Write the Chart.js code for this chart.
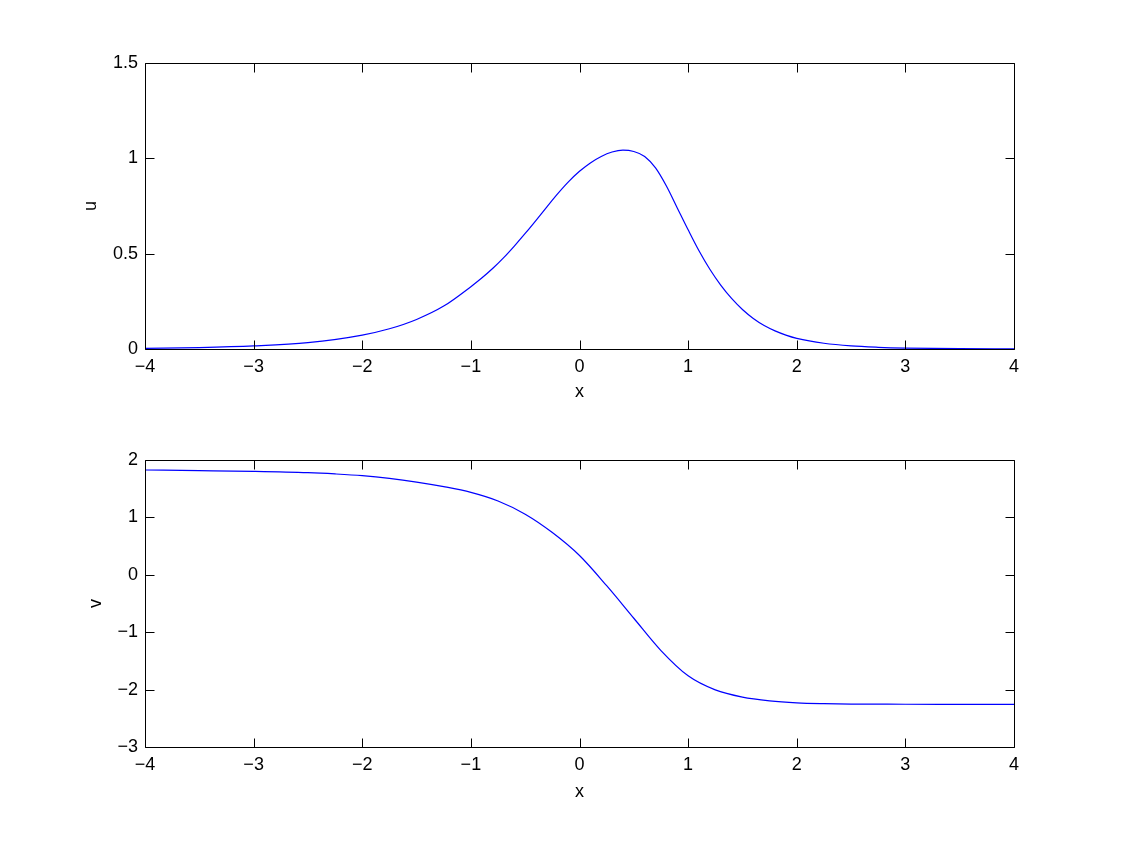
<!DOCTYPE html>
<html>
<head>
<meta charset="utf-8">
<script src="https://cdn.jsdelivr.net/npm/chart.js@4/dist/chart.umd.min.js"></script>
<style>
  html, body { margin: 0; padding: 0; background: #ffffff; }
  #wrap { position: relative; width: 1121px; height: 842px; background: #fff; }
  .box { position: absolute; left: 0; width: 1121px; height: 421px; }
</style>
</head>
<body>
<div id="wrap">
  <div class="box" style="top:0"><canvas id="c1"></canvas></div>
  <div class="box" style="top:421px"><canvas id="c2"></canvas></div>
</div>
<script>
// ---- data ----
const xU = [-4, -3.5, -3, -2.5, -2, -1.75, -1.5, -1.25, -1, -0.9, -0.8, -0.7, -0.6, -0.5, -0.4, -0.3, -0.2, -0.1, 0, 0.1, 0.2, 0.3, 0.4, 0.5, 0.6, 0.7, 0.8, 0.9, 1.0, 1.1, 1.2, 1.3, 1.4, 1.5, 1.6, 1.7, 1.8, 1.9, 2.0, 2.25, 2.5, 2.75, 3, 3.5, 4];
const uVals = [0.0035, 0.0075, 0.016, 0.033, 0.073, 0.106, 0.155, 0.225, 0.327, 0.372, 0.422, 0.478, 0.54, 0.606, 0.675, 0.746, 0.815, 0.878, 0.932, 0.976, 1.01, 1.033, 1.043, 1.036, 1.01, 0.95, 0.855, 0.74, 0.625, 0.515, 0.418, 0.335, 0.265, 0.207, 0.16, 0.123, 0.095, 0.073, 0.056, 0.03, 0.016, 0.009, 0.005, 0.0015, 0.0005];

const xV = [-4, -3.5, -3, -2.5, -2.25, -2, -1.75, -1.5, -1.25, -1, -0.75, -0.5, -0.25, 0, 0.25, 0.5, 0.75, 1.0, 1.25, 1.5, 1.75, 2, 2.25, 2.5, 3, 3.5, 4];
const vVals = [1.826, 1.815, 1.802, 1.779, 1.757, 1.727, 1.68, 1.616, 1.536, 1.436, 1.286, 1.056, 0.736, 0.336, -0.19, -0.757, -1.32, -1.76, -2.005, -2.13, -2.195, -2.23, -2.245, -2.252, -2.255, -2.256, -2.256];

const xTicks = [-4, -3, -2, -1, 0, 1, 2, 3, 4];
const uTicks = [0, 0.5, 1, 1.5];
const vTicks = [-3, -2, -1, 0, 1, 2];

const FONT = { family: "'Liberation Sans', Arial, Helvetica, sans-serif", size: 18 };
const fmt = v => String(v).replace('-', '\u2212');

// draws the MATLAB-style box and inward tick marks
const boxPlugin = {
  id: 'matlabBox',
  afterDatasetsDraw(chart) {
    const { ctx, chartArea: a, scales } = chart;
    const xs = scales.x, ys = scales.y;
    const L = 9;
    ctx.save();
    ctx.strokeStyle = '#000';
    ctx.lineWidth = 1;
    ctx.beginPath();
    const l = Math.round(a.left) + 0.5, r = Math.round(a.right) + 0.5;
    const t = Math.round(a.top) + 0.5, b = Math.round(a.bottom) + 0.5;
    ctx.rect(l, t, r - l, b - t);
    xs.ticks.forEach(tk => {
      const px = Math.round(xs.getPixelForValue(tk.value)) + 0.5;
      ctx.moveTo(px, b); ctx.lineTo(px, b - L);
      ctx.moveTo(px, t); ctx.lineTo(px, t + L);
    });
    ys.ticks.forEach(tk => {
      const py = Math.round(ys.getPixelForValue(tk.value)) + 0.5;
      ctx.moveTo(l, py); ctx.lineTo(l + L, py);
      ctx.moveTo(r, py); ctx.lineTo(r - L, py);
    });
    ctx.stroke();
    ctx.restore();
  }
};

function makeChart(id, xs, ys, yTicks, yMin, yMax, yLabel, pad, yTitlePad, xTitlePad) {
  const data = xs.map((x, i) => ({ x: x, y: ys[i] }));
  return new Chart(document.getElementById(id), {
    type: 'line',
    data: { datasets: [{
      data: data,
      borderColor: '#0000ff',
      borderWidth: 1.2,
      pointRadius: 0,
      fill: false,
      cubicInterpolationMode: 'monotone'
    }] },
    options: {
      responsive: true,
      maintainAspectRatio: false,
      animation: false,
      events: [],
      layout: { padding: pad },
      plugins: { legend: { display: false }, tooltip: { enabled: false } },
      scales: {
        x: {
          type: 'linear', min: -4, max: 4,
          afterFit: s => { s.height = 60; },
          afterBuildTicks: s => { s.ticks = xTicks.map(v => ({ value: v })); },
          grid: { display: false, drawTicks: false },
          border: { display: false },
          ticks: { font: FONT, color: '#000', padding: 7, maxRotation: 0, callback: v => fmt(v) },
          title: { display: true, text: 'x', font: FONT, color: '#000', padding: { top: 0, bottom: xTitlePad } }
        },
        y: {
          type: 'linear', min: yMin, max: yMax,
          afterFit: s => { s.width = 65; },
          afterBuildTicks: s => { s.ticks = yTicks.map(v => ({ value: v })); },
          grid: { display: false, drawTicks: false },
          border: { display: false },
          ticks: { font: FONT, color: '#000', padding: 7, callback: v => fmt(v) },
          title: { display: true, text: yLabel, font: FONT, color: '#000', padding: { top: yTitlePad, bottom: 0 } }
        }
      }
    },
    plugins: [boxPlugin]
  });
}

makeChart('c1', xU, uVals, uTicks, 0, 1.5, 'u', { left: 80, right: 107, top: 63, bottom: 12 }, 0, 6);
makeChart('c2', xV, vVals, vTicks, -3, 2, 'v', { left: 80, right: 107, top: 39, bottom: 35 }, 5, 4);
</script>
</body>
</html>
